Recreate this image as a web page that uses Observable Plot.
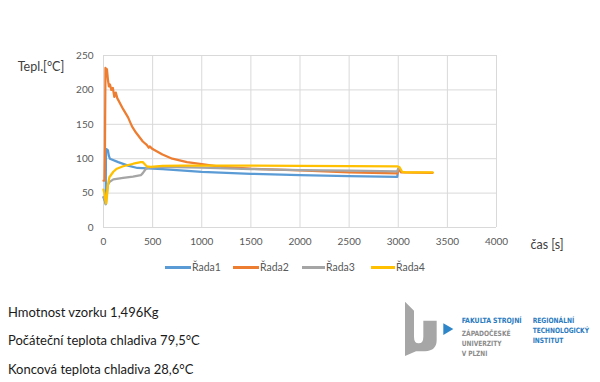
<!DOCTYPE html>
<html>
<head>
<meta charset="utf-8">
<script src="https://cdn.jsdelivr.net/npm/d3@7"></script>
<script src="https://cdn.jsdelivr.net/npm/@observablehq/plot@0.6"></script>
<style>
  html, body { margin: 0; padding: 0; background: #fff; }
  #wrap { position: relative; width: 600px; height: 382px; overflow: hidden; font-family: Lato, "Open Sans", sans-serif; }
  #chart { position: absolute; left: 0; top: 0; }
  #legend { position: absolute; top: 259px; left: 0; width: 600px; height: 16px; font-size: 10.5px; color: #595959; }
  .li { position: absolute; top: 0; height: 16px; line-height: 16px; }
  .sw { position: absolute; top: 7px; height: 2.5px; }
  .notes { position: absolute; left: 8px; font-size: 13px; color: #1a1a1a; white-space: nowrap; line-height: 16px; }
  #logo { position: absolute; left: 390px; top: 290px; }
</style>
</head>
<body>
<div id="wrap">
  <div id="chart"></div>
  <div id="legend"></div>
  <div class="notes" style="top:304px">Hmotnost vzorku 1,496Kg</div>
  <div class="notes" style="top:332px">Počáteční teplota chladiva 79,5°C</div>
  <div class="notes" style="top:361px">Koncová teplota chladiva 28,6°C</div>
  <svg id="logo" width="210" height="92" viewBox="0 0 630 276">
    <path d="M45,35 L72,62 L72,140 Q72,160 86,160 Q100,160 100,140 L100,92 L140,92 L140,150 Q140,182 105,184 L78,184 L45,198 Z" fill="#a6a6a6"/>
    <path d="M160,100 L190,117 L160,135 Z" fill="#2e86c8"/>
    <g font-family="'Liberation Sans Narrow','DejaVu Sans Condensed','DejaVu Sans',sans-serif" font-size="22" font-weight="bold">
      <text x="215" y="100" fill="#2b7bc0" textLength="180" lengthAdjust="spacingAndGlyphs">FAKULTA STROJNÍ</text>
      <text x="215" y="137" fill="#8c8c8c" textLength="147" lengthAdjust="spacingAndGlyphs">ZÁPADOČESKÉ</text>
      <text x="215" y="167" fill="#8c8c8c" textLength="120" lengthAdjust="spacingAndGlyphs">UNIVERZITY</text>
      <text x="215" y="197" fill="#8c8c8c" textLength="77" lengthAdjust="spacingAndGlyphs">V PLZNI</text>
      <text x="428" y="100" fill="#2b7bc0" textLength="125" lengthAdjust="spacingAndGlyphs">REGIONÁLNÍ</text>
      <text x="428" y="130" fill="#2b7bc0" textLength="169" lengthAdjust="spacingAndGlyphs">TECHNOLOGICKÝ</text>
      <text x="428" y="160" fill="#2b7bc0" textLength="92" lengthAdjust="spacingAndGlyphs">INSTITUT</text>
    </g>
  </svg>
</div>
<script>
const seriesNames = ["Řada1", "Řada2", "Řada3", "Řada4"];
const seriesColors = ["#5b9bd5", "#ed7d31", "#a5a5a5", "#ffc000"];

const t1 = [0, 15, 22, 25, 30, 45, 55, 65, 150, 250, 345, 450, 600, 1000, 1500, 2000, 2500, 2990, 3000];
const v1 = [44, 38, 34, 110, 114, 112, 104, 100, 95, 90, 86.5, 86, 85, 81, 78, 76, 74.5, 73.5, 85];

const t2 = [0, 10, 15, 20, 28, 35, 45, 55, 65, 80, 95, 110, 125, 140, 200, 250, 290, 330, 400, 440, 460, 470, 500, 600, 700, 850, 1000, 1200, 1500, 2000, 2500, 2990, 3000, 3030, 3350];
const v2 = [68, 68, 120, 232, 228, 230, 215, 205, 208, 200, 203, 190, 196, 188, 172, 160, 147, 138, 125, 120, 116, 118, 114, 106, 100, 95, 92, 88, 85.5, 83, 80, 78.5, 85, 80, 79.5];

const t3 = [0, 15, 25, 35, 45, 60, 100, 200, 300, 380, 400, 430, 460, 600, 1000, 1500, 2000, 2500, 2990, 3000];
const v3 = [44, 40, 34, 50, 62, 66, 70, 72, 74, 76, 79, 85, 87, 88, 87, 85, 83.5, 82.5, 81.5, 86];

const t4 = [0, 10, 20, 27, 35, 45, 60, 100, 136, 200, 304, 380, 400, 420, 440, 480, 600, 800, 1500, 2000, 2990, 3010, 3040, 3080, 3350];
const v4 = [55, 50, 40, 35, 45, 62, 73, 81, 85.5, 89, 92.7, 95, 95, 92, 89, 88, 89.5, 90, 90, 89.5, 89, 88, 81, 80, 80];

const xTicks = [0, 500, 1000, 1500, 2000, 2500, 3000, 3500, 4000];
const yTicks = [0, 50, 100, 150, 200, 250];

const times = [t1, t2, t3, t4];
const vals = [v1, v2, v3, v4];

const lineMarks = seriesNames.map((name, i) =>
  Plot.line(times[i].map((t, j) => ({t, v: vals[i][j]})), {
    x: "t", y: "v", stroke: seriesColors[i], strokeWidth: 2.25, strokeLinejoin: "round", strokeLinecap: "round"
  })
);

const chart = Plot.plot({
  width: 600,
  height: 290,
  marginTop: 55,
  marginRight: 104,
  marginBottom: 63,
  marginLeft: 103,
  style: { fontFamily: "Lato, 'Open Sans', sans-serif", background: "#fff", overflow: "visible" },
  x: { domain: [0, 4000] },
  y: { domain: [0, 250] },
  marks: [
    Plot.gridX(xTicks, { stroke: "#d9d9d9", strokeOpacity: 1 }),
    Plot.gridY(yTicks, { stroke: "#d9d9d9", strokeOpacity: 1 }),
    Plot.axisX(xTicks, { tickSize: 0, tickPadding: 10, fontSize: 10, fill: "#595959", label: null, tickFormat: d => String(d) }),
    Plot.axisY(yTicks, { tickSize: 0, tickPadding: 10, fontSize: 10, fill: "#595959", label: null, tickFormat: d => String(d) }),
    ...lineMarks,
    Plot.text(["Tepl.[°C]"], { frameAnchor: "top-left", dx: -62.5, dy: 6.5, textAnchor: "middle", fontSize: 12.5, fill: "#404040" }),
    Plot.text(["čas [s]"], { frameAnchor: "bottom-right", dx: 50.5, dy: 21, textAnchor: "middle", fontSize: 12.5, fill: "#404040" })
  ]
});
document.getElementById("chart").appendChild(chart);

// legend
const legendPos = [[165, 192], [233, 260], [302, 326], [371, 396]];
const legend = document.getElementById("legend");
seriesNames.forEach((name, i) => {
  const sw = document.createElement("div");
  sw.className = "sw";
  sw.style.left = legendPos[i][0] + "px";
  sw.style.width = (legendPos[i][1] - legendPos[i][0] - 1) + "px";
  sw.style.background = seriesColors[i];
  legend.appendChild(sw);
  const tx = document.createElement("div");
  tx.className = "li";
  tx.style.left = legendPos[i][1] + "px";
  tx.textContent = name;
  legend.appendChild(tx);
});
</script>
</body>
</html>
